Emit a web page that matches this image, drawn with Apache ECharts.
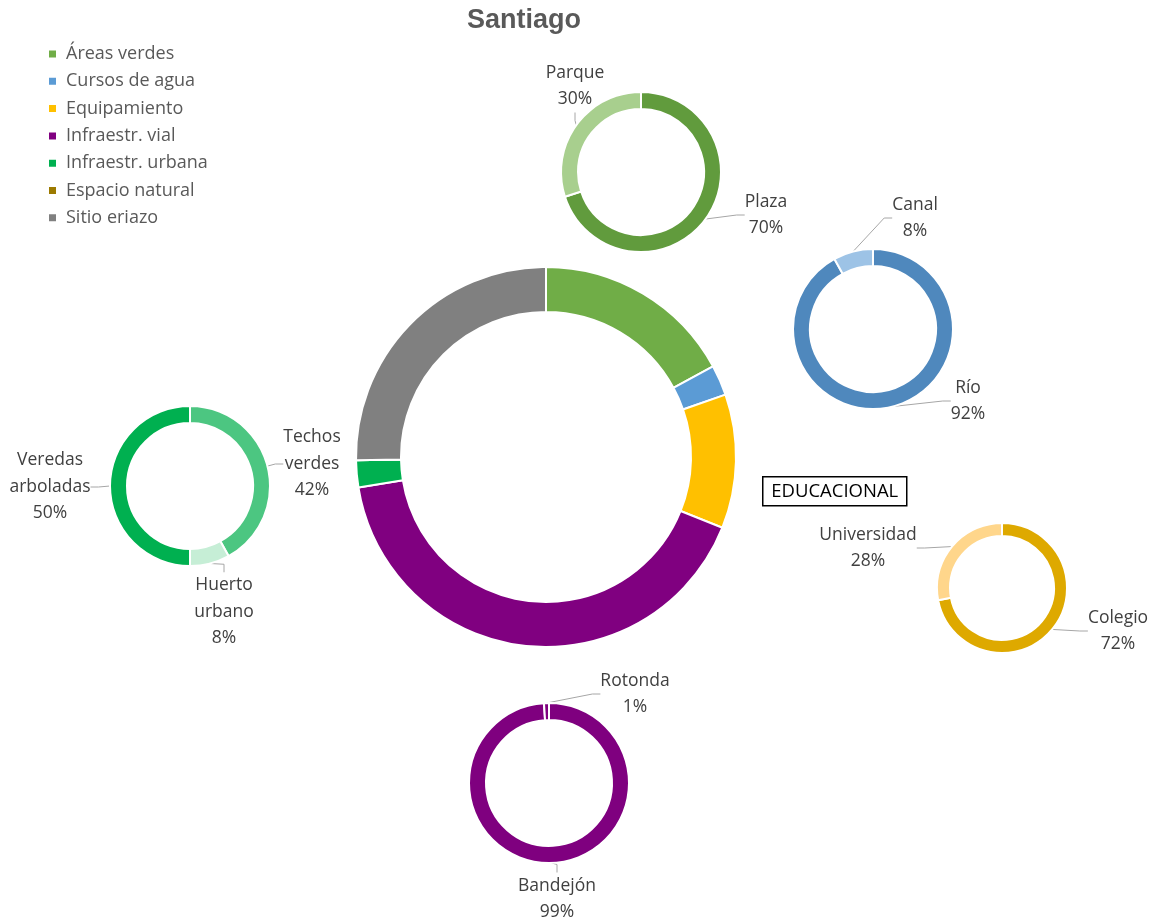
<!DOCTYPE html>
<html lang="es">

<head>
    <meta charset="UTF-8">
    <title>Santiago</title>
    <script src="https://cdn.jsdelivr.net/npm/echarts@6/dist/echarts.min.js"></script>
    <style>
        body { margin: 0; background: #fff; }
        #mChart { width: 1153px; height: 924px; }
    </style>
</head>

<body>
    <div id="mChart"></div>

    <script type="text/javascript">
        // categorias principales (%)
        const categorias = ['Áreas verdes', 'Cursos de agua', 'Equipamiento', 'Infraestr. vial', 'Infraestr. urbana', 'Espacio natural', 'Sitio eriazo']
        const valores = [17.1, 2.6, 11.4, 41.4, 2.3, 0, 25.3]
        const colores = ['#70ad47', '#5b9bd5', '#ffc000', '#800080', '#00b050', '#9c7a00', '#808080']

        // sub-categorias
        const verdesNombres = ['Plaza', 'Parque']
        const verdesValores = [70, 30]
        const aguaNombres = ['Río', 'Canal']
        const aguaValores = [92, 8]
        const educNombres = ['Colegio', 'Universidad']
        const educValores = [72, 28]
        const vialNombres = ['Bandejón', 'Rotonda']
        const vialValores = [99, 1]
        const urbanaNombres = ['Techos verdes', 'Huerto urbano', 'Veredas arboladas']
        const urbanaValores = [42, 8, 50]

        const font = '"Open Sans", "Noto Sans", sans-serif'
        const labelColor = '#404040'

        function toData(names, values, colors) {
            return names.map((n, i) => ({ name: n, value: values[i], itemStyle: { color: colors[i] } }))
        }

        function subPie(id, center, radius, data, labelPos, split) {
            return {
                id: id,
                type: 'pie',
                center: center,
                radius: radius,
                startAngle: 90,
                clockwise: true,
                silent: true,
                data: data,
                itemStyle: { borderColor: '#fff', borderWidth: 2 },
                label: {
                    show: true,
                    position: 'outside',
                    color: labelColor,
                    fontFamily: font,
                    fontSize: 17.5,
                    lineHeight: 26.5,
                    align: 'center',
                    overflow: 'none',
                    formatter: p => (split ? p.name.replace(' ', '\n') : p.name) + '\n' + Math.round(p.percent) + '%'
                },
                labelLine: {
                    show: true,
                    length: 8,
                    length2: 8,
                    lineStyle: { color: '#a6a6a6', width: 1 }
                },
                labelLayout: p => ({
                    x: labelPos[p.dataIndex][0],
                    y: labelPos[p.dataIndex][1],
                    align: 'center',
                    verticalAlign: 'middle'
                })
            }
        }

        var mChart = echarts.init(document.getElementById('mChart'))

        mChart.setOption({
            animation: false,
            title: {
                text: 'Santiago',
                left: 462,
                top: 2,
                textStyle: { color: '#595959', fontSize: 27, fontWeight: 'bold', fontFamily: '"Liberation Sans", Arial, sans-serif' }
            },
            legend: {
                orient: 'vertical',
                left: 47,
                top: 45,
                padding: 0,
                itemWidth: 9,
                itemHeight: 9,
                itemGap: 9.3,
                icon: 'rect',
                data: categorias,
                selectedMode: false,
                textStyle: { color: '#595959', fontSize: 18, lineHeight: 18, fontFamily: font, padding: [0, 0, 0, 4] }
            },
            graphic: [{
                type: 'group',
                left: 762,
                top: 476,
                children: [{
                    type: 'rect',
                    shape: { x: 0, y: 0, width: 144, height: 29 },
                    style: { fill: '#fff', stroke: '#000', lineWidth: 1.5 }
                }, {
                    type: 'text',
                    x: 72,
                    y: 15,
                    style: { text: 'EDUCACIONAL', fill: '#000', font: '18.5px ' + font, align: 'center', verticalAlign: 'middle' }
                }]
            }],
            series: [
                {
                    id: 'main',
                    type: 'pie',
                    center: [546, 457],
                    radius: [145, 190],
                    startAngle: 90,
                    silent: true,
                    label: { show: false },
                    labelLine: { show: false },
                    itemStyle: { borderColor: '#fff', borderWidth: 2 },
                    data: toData(categorias, valores, colores)
                },
                subPie('verdes', [641, 172], [63, 80],
                    toData(verdesNombres, verdesValores, ['#619b3d', '#a8cf8e']),
                    [[766, 215], [575, 86]]),
                subPie('agua', [873, 329], [63, 80],
                    toData(aguaNombres, aguaValores, ['#4f88bd', '#9dc3e6']),
                    [[968, 401], [915, 218]]),
                subPie('educ', [1002, 588], [52, 65],
                    toData(educNombres, educValores, ['#dea900', '#ffd68b']),
                    [[1118, 631], [868, 548]]),
                subPie('vial', [549, 783], [63, 80],
                    toData(vialNombres, vialValores, ['#7f007f', '#7f007f']),
                    [[557, 899], [635, 694]]),
                subPie('urbana', [190, 486], [63, 80],
                    toData(urbanaNombres, urbanaValores, ['#4cc681', '#c6eed6', '#00b050']),
                    [[312, 464], [224, 612], [50, 487]], true)
            ]
        })
    </script>
</body>

</html>
